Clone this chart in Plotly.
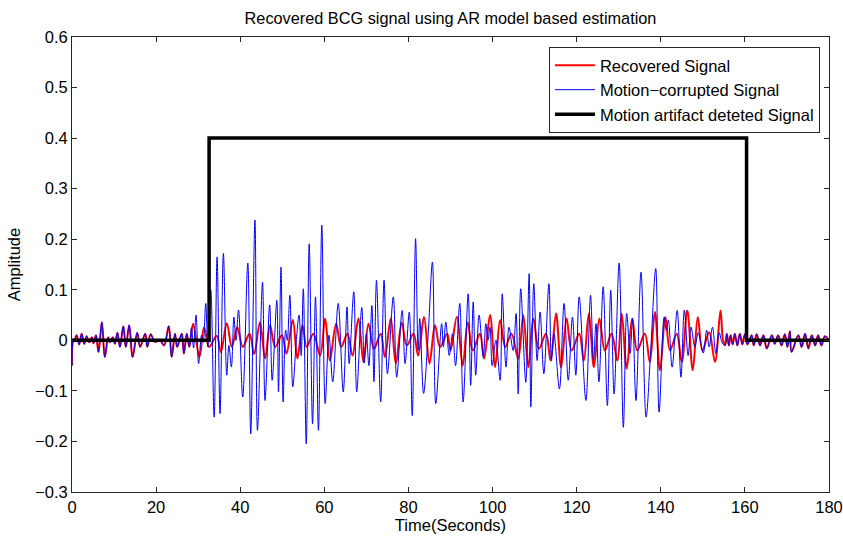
import plotly.graph_objects as go

# Shared segment before the artifact (red and blue coincide)
t_pre = [0, 0.3, 0.7, 1.1, 1.7, 2.3, 2.9, 3.5, 4.1, 4.7, 5.1, 5.7, 6.3, 7.1, 7.8, 8.6, 9.0, 9.7, 10.2,
         10.8, 11.4, 12.2, 12.8, 13.6, 14.4, 15.5, 16.2, 17.4, 17.9, 18.7, 19.7, 20.9, 21.9, 23.0,
         23.7, 24.5, 25.0, 26.1, 26.6, 27.3, 27.9]
v_pre = [-0.05, 0.0, 0.003, 0.01, -0.008, 0.013, -0.007, 0.008, -0.004, 0.006, -0.006, 0.01, -0.023, 0.036,
         -0.033, 0.006, -0.004, 0.006, -0.007, 0.015, -0.013, 0.028, -0.013, 0.03, -0.033, 0.015,
         -0.013, 0.013, -0.013, 0.012, -0.003, 0.0, -0.01, 0.028, -0.033, 0.013, -0.013, 0.013,
         -0.026, 0.013, -0.013]

# Motion-corrupted signal (blue) during the artifact
t_blue = [28.4, 28.9, 29.5, 30.1, 30.8, 31.2, 31.8, 32.3, 33.0, 33.8, 34.5, 35.2, 36.0, 36.8, 37.3,
          37.9, 38.5, 39.0, 39.6, 40.6, 41.8, 42.5, 43.5, 44.1, 45.3, 45.9, 47.0, 47.6, 48.7, 49.1,
          49.7, 50.2, 50.8, 51.2, 51.8, 52.5, 53.4, 54.0, 54.5, 55.0, 55.7, 56.4, 57.2, 57.9, 58.6,
          59.4, 60.2, 61.1, 62.0, 63.3, 64.5, 65.4, 65.9, 67.0, 67.7, 68.9, 69.5, 70.0, 70.6, 71.3,
          71.8, 72.4, 73.4, 74.2, 75.0, 76.4, 77.2, 78.5, 79.2, 80.2, 80.9, 81.7, 82.3, 82.7, 83.6,
          84.7, 85.7, 86.5, 87.9, 88.3, 88.9, 89.7, 90.5, 91.2, 92.2, 93.0, 94.2, 94.8, 95.4, 96.0,
          96.8, 97.8, 98.4, 98.9, 99.4, 99.9, 100.8, 101.8, 102.3, 103.2, 103.9, 104.9, 105.6, 106.1,
          106.7, 107.9, 108.7, 109.1, 109.8, 110.6, 111.3, 112.2, 113.4, 114.0, 114.6, 115.9, 117.0,
          118.0, 119.0, 119.8, 120.6, 122.2, 123.3, 124.0, 124.6, 125.3, 126.3, 127.3, 128.1, 128.9,
          130.1, 131.1, 131.9, 132.7, 133.3, 134.1, 135.3, 136.5, 137.6, 138.8, 139.6, 140.8, 141.3,
          141.8, 142.7, 143.9, 144.8, 145.6, 146.5, 147.2, 148.1, 148.9, 150.1, 150.9, 151.5, 152.3,
          153.1, 153.9, 154.6]
v_blue = [0.025, -0.015, 0.05, -0.046, 0.01, -0.004, 0.073, -0.013, 0.10, -0.152, 0.165, -0.145,
          0.172, -0.069, -0.01, -0.053, 0.046, 0.0, 0.06, -0.112, 0.153, -0.185, 0.238, -0.178,
          0.115, -0.119, 0.07, -0.079, 0.079, -0.102, 0.145, -0.122, 0.02, 0.0, 0.089, -0.092,
          0.007, 0.05, -0.03, 0.102, -0.205, 0.191, -0.165, 0.086, -0.178, 0.228, -0.125, 0.01,
          -0.082, 0.073, -0.102, 0.066, -0.046, 0.096, -0.102, 0.065, -0.045, 0.013, -0.05, 0.069,
          -0.082, 0.119, -0.122, 0.119, -0.066, 0.086, -0.073, 0.059, -0.046, 0.056, -0.149, 0.201,
          -0.02, 0.043, -0.105, 0.013, 0.155, -0.125, 0.033, -0.013, 0.036, -0.03, 0.013, -0.05,
          0.073, -0.122, 0.092, -0.089, 0.076, -0.069, 0.05, -0.033, 0.033, 0.0, 0.026, -0.05, 0.0,
          -0.079, 0.092, -0.053, 0.026, -0.02, 0.053, -0.106, 0.102, -0.083, 0.132, -0.132, 0.112,
          -0.04, 0.056, -0.066, 0.112, -0.04, 0.013, -0.096, 0.073, -0.079, 0.046, -0.069, 0.086,
          -0.119, 0.089, -0.04, 0.033, -0.082, 0.106, -0.129, 0.099, -0.106, 0.153, -0.172, 0.053,
          -0.026, 0.043, -0.119, 0.135, -0.152, -0.02, 0.142, -0.142, 0.046, 0.02, 0.04, -0.053,
          0.059, -0.073, 0.06, -0.03, 0.026, -0.013, 0.015, -0.025, 0.02, -0.013, 0.026, -0.026,
          0.015, -0.005]

# Recovered signal (red) during the artifact
t_red = [28.8, 30.3, 31.4, 32.6, 34.4, 35.4, 36.8, 38.0, 39.3, 40.6, 42.2, 43.3, 44.7, 45.9, 47.1,
         48.3, 49.9, 51.0, 52.5, 53.6, 54.8, 55.8, 57.4, 59.0, 60.2, 61.3, 62.8, 64.0, 65.5, 66.7,
         68.1, 69.3, 70.5, 71.8, 73.4, 74.4, 75.8, 77.0, 78.4, 79.6, 81.2, 82.3, 83.7, 85.0, 86.3,
         87.5, 89.2, 90.0, 91.5, 92.9, 94.1, 95.3, 97.0, 98.0, 99.4, 100.6, 101.8, 103.0, 104.5,
         106.1, 107.3, 108.5, 109.7, 111.0, 112.7, 113.8, 115.1, 116.3, 117.6, 118.8, 120.6, 121.7,
         122.9, 124.1, 125.4, 126.7, 128.3, 129.7, 130.7, 131.9, 133.2, 134.4, 136.2, 137.4, 138.6,
         139.8, 141.1, 142.2, 143.8, 145.0, 146.3, 147.6, 148.8, 149.9, 151.5, 152.9, 154.2, 154.8]
v_red = [0.033, -0.033, 0.026, -0.013, 0.009, -0.023, 0.034, -0.013, 0.026, -0.013, 0.013, -0.027,
         0.036, -0.036, 0.03, -0.013, 0.01, -0.026, 0.04, -0.036, 0.03, -0.013, 0.013, -0.03, 0.043,
         -0.04, 0.033, -0.013, 0.013, -0.03, 0.043, -0.043, 0.033, -0.017, 0.013, -0.033, 0.043,
         -0.046, 0.035, -0.01, 0.013, -0.03, 0.046, -0.046, 0.03, -0.013, 0.013, -0.02, 0.046,
         -0.05, 0.036, -0.02, 0.013, -0.036, 0.05, -0.053, 0.04, -0.013, 0.013, -0.036, 0.05,
         -0.053, 0.043, -0.017, 0.013, -0.04, 0.053, -0.053, 0.043, -0.02, 0.013, -0.04, 0.053,
         -0.053, 0.043, -0.02, 0.013, -0.04, 0.053, -0.056, 0.043, -0.02, 0.013, -0.043, 0.056,
         -0.059, 0.046, -0.02, 0.013, -0.043, 0.059, -0.059, 0.046, -0.02, 0.016, -0.043, 0.059, 0.0]

# Shared segment after the artifact
t_post = [155.3, 155.7, 156.2, 156.6, 157.1, 157.6, 158.2, 158.8, 159.4, 160.0, 160.6, 161.6, 162.1,
          162.8, 163.6, 164.4, 165.2, 166.4, 167.1, 167.9, 168.7, 169.5, 170.1, 170.7, 171.1, 172.7,
          173.5, 174.3, 175.1, 175.9, 176.7, 177.4, 178.2, 179.0, 180.0]
v_post = [-0.01, 0.013, -0.01, 0.01, -0.008, 0.013, -0.01, 0.013, -0.008, 0.012, -0.008, 0.01, -0.01,
          0.012, -0.01, 0.01, -0.016, 0.01, -0.007, 0.01, -0.01, 0.012, -0.013, 0.018, -0.023, 0.01,
          -0.013, 0.013, -0.016, 0.01, -0.01, 0.01, -0.01, 0.008, 0.0]

# Motion artifact detection (step)
t_detect = [0, 32.6, 160.4, 180]
v_detect = [0, 0.4, 0, 0]

x_ticks = [0, 20, 40, 60, 80, 100, 120, 140, 160, 180]
y_ticks = [-0.3, -0.2, -0.1, 0, 0.1, 0.2, 0.3, 0.4, 0.5, 0.6]

FONT = "Liberation Sans, Arial, sans-serif"

fig = go.Figure()
fig.add_trace(go.Scatter(x=t_pre + t_red + t_post, y=v_pre + v_red + v_post, mode="lines",
                         name="Recovered Signal", line=dict(color="#ff0000", width=2, shape="spline", smoothing=1)))
fig.add_trace(go.Scatter(x=t_pre + t_blue + t_post, y=v_pre + v_blue + v_post, mode="lines",
                         name="Motion\u2212corrupted Signal", line=dict(color="#0000ff", width=1, shape="spline", smoothing=1)))
fig.add_trace(go.Scatter(x=t_detect, y=v_detect, mode="lines",
                         name="Motion artifact deteted Signal", line=dict(color="#000000", width=3.5, shape="hv")))

axis_common = dict(showgrid=False, zeroline=False, showline=True, linecolor="#262626", linewidth=1,
                   mirror="ticks", ticks="inside", ticklen=5, tickcolor="#262626",
                   tickfont=dict(family=FONT, size=16.5, color="#000"), automargin=False)

fig.update_layout(
    width=843, height=536,
    margin=dict(l=72, r=14, t=37, b=44),
    paper_bgcolor="white", plot_bgcolor="white",
    font=dict(family=FONT, size=16, color="#000"),
    title=dict(text="Recovered BCG signal using AR model based estimation", x=0.5, xref="paper",
               y=1 - 18 / 536, yref="container", yanchor="middle", xanchor="center",
               font=dict(family=FONT, size=16.3, color="#000")),
    xaxis=dict(range=[0, 180], tickvals=x_ticks, ticktext=[str(v) for v in x_ticks],
               title=dict(text="Time(Seconds)", standoff=0, font=dict(family=FONT, size=16.5)),
               **axis_common),
    yaxis=dict(range=[-0.3, 0.6], tickvals=y_ticks,
               ticktext=[("\u2212" + f"{abs(v):g}") if v < 0 else f"{v:g}" for v in y_ticks],
               title=dict(text="Amplitude", standoff=10, font=dict(family=FONT, size=16.5)),
               **axis_common),
    legend=dict(x=0.988, y=0.978, xanchor="right", yanchor="top", bgcolor="white",
                bordercolor="#262626", borderwidth=1, font=dict(family=FONT, size=16.5, color="#000"),
                tracegroupgap=0, itemwidth=40),
    showlegend=True,
)

fig.write_html("out.html")
